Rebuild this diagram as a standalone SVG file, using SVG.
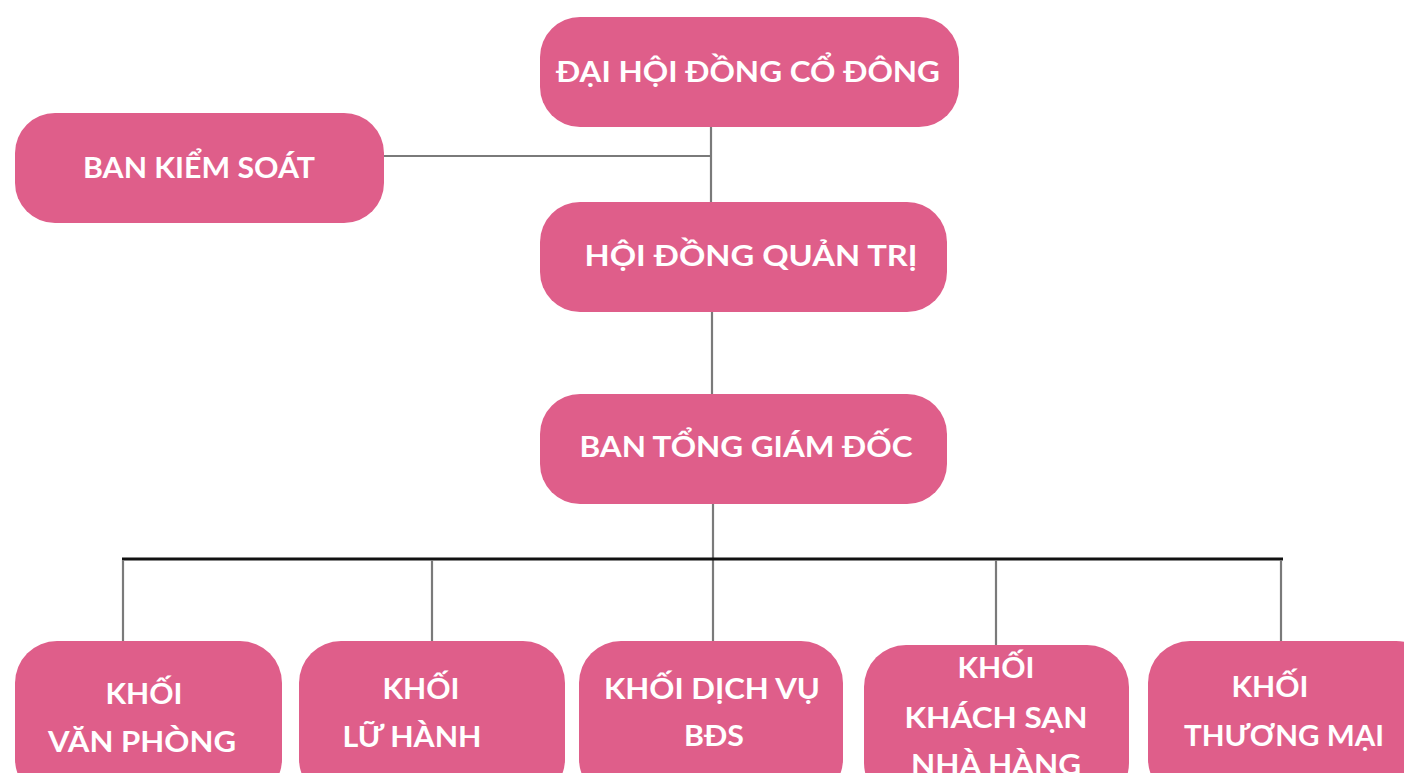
<svg xmlns="http://www.w3.org/2000/svg" width="1404" height="773" viewBox="0 0 1404 773">
<style>
.box{fill:#DF5E8A}
.t{fill:#ffffff;font-family:Lato,"Open Sans","Liberation Sans",sans-serif;font-weight:700;font-size:29px;text-anchor:middle}
.c{stroke:#7a7a7a;stroke-width:2.2;fill:none}
.k{stroke:#111111;stroke-width:3;fill:none}
</style>
<rect width="1404" height="773" fill="#ffffff"/>
<g id="connectors">
<line class="c" x1="711" y1="127" x2="711" y2="207"/>
<line class="c" x1="384" y1="156" x2="711" y2="156"/>
<line class="c" x1="712" y1="312" x2="712" y2="394"/>
<line class="c" x1="713" y1="504" x2="713" y2="641"/>
<line class="k" x1="122" y1="559" x2="1283" y2="559"/>
<line class="c" x1="123" y1="560" x2="123" y2="641"/>
<line class="c" x1="432" y1="560" x2="432" y2="641"/>
<line class="c" x1="996" y1="560" x2="996" y2="645"/>
<line class="c" x1="1281" y1="560" x2="1281" y2="641"/>
</g>
<g id="dhdcd">
<rect class="box" x="540" y="17" width="419" height="110" rx="40"/>
<text class="t" x="748" y="82" textLength="384" lengthAdjust="spacingAndGlyphs">ĐẠI HỘI ĐỒNG CỔ ĐÔNG</text>
</g>
<g id="bks">
<rect class="box" x="15" y="113" width="369" height="110" rx="40"/>
<text class="t" x="199" y="178" textLength="232" lengthAdjust="spacingAndGlyphs">BAN KIỂM SOÁT</text>
</g>
<g id="hdqt">
<rect class="box" x="540" y="202" width="407" height="110" rx="40"/>
<text class="t" x="751" y="266" textLength="333" lengthAdjust="spacingAndGlyphs">HỘI ĐỒNG QUẢN TRỊ</text>
</g>
<g id="btgd">
<rect class="box" x="540" y="394" width="407" height="110" rx="40"/>
<text class="t" x="746" y="457" textLength="333" lengthAdjust="spacingAndGlyphs">BAN TỔNG GIÁM ĐỐC</text>
</g>
<g id="k1">
<rect class="box" x="15" y="641" width="267" height="160" rx="42"/>
<text class="t" x="144" y="704" textLength="77" lengthAdjust="spacingAndGlyphs">KHỐI</text>
<text class="t" x="142" y="752" textLength="188" lengthAdjust="spacingAndGlyphs">VĂN PHÒNG</text>
</g>
<g id="k2">
<rect class="box" x="299" y="641" width="266" height="160" rx="42"/>
<text class="t" x="421" y="699" textLength="77" lengthAdjust="spacingAndGlyphs">KHỐI</text>
<text class="t" x="412" y="747" textLength="139" lengthAdjust="spacingAndGlyphs">LỮ HÀNH</text>
</g>
<g id="k3">
<rect class="box" x="579" y="641" width="264" height="160" rx="42"/>
<text class="t" x="712" y="699" textLength="216" lengthAdjust="spacingAndGlyphs">KHỐI DỊCH VỤ</text>
<text class="t" x="714" y="746" textLength="60" lengthAdjust="spacingAndGlyphs">BĐS</text>
</g>
<g id="k4">
<rect class="box" x="864" y="645" width="265" height="160" rx="42"/>
<text class="t" x="996" y="678" textLength="77" lengthAdjust="spacingAndGlyphs">KHỐI</text>
<text class="t" x="996" y="728" textLength="183" lengthAdjust="spacingAndGlyphs">KHÁCH SẠN</text>
<text class="t" x="996" y="775" textLength="170" lengthAdjust="spacingAndGlyphs">NHÀ HÀNG</text>
</g>
<g id="k5">
<rect class="box" x="1148" y="641" width="290" height="160" rx="42"/>
<text class="t" x="1270" y="697" textLength="77" lengthAdjust="spacingAndGlyphs">KHỐI</text>
<text class="t" x="1284" y="746" textLength="200" lengthAdjust="spacingAndGlyphs">THƯƠNG MẠI</text>
</g>
</svg>
